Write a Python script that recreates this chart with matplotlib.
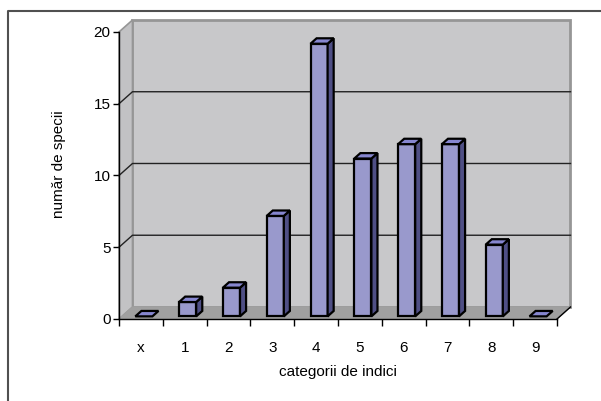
import matplotlib
matplotlib.use("Agg")
import matplotlib.pyplot as plt
from matplotlib.patches import Polygon
from matplotlib.lines import Line2D

plt.rcParams['font.family'] = ['Liberation Sans', 'DejaVu Sans']

# data
categories = ['x', '1', '2', '3', '4', '5', '6', '7', '8', '9']
species_counts = [0, 1, 2, 7, 19, 11, 12, 12, 5, 0]
y_ticks = [0, 5, 10, 15, 20]
y_label = 'număr de specii'
x_label = 'categorii de indici'

# 3-D look: oblique depth offset in data units
DX = 0.308   # horizontal shift of the back plane (category units)
DY = 0.837   # vertical shift of the back plane (value units)
BAR_W = 0.39
BAR_F0 = 0.22   # depth position of the bar front face
BAR_D = 0.45    # bar depth

WALL = '#c8c8ca'
SIDE_WALL = '#c2c2c4'
FLOOR = '#a0a0a0'
WALL_EDGE = '#969696'
FRONT = '#9999cc'
SIDE = '#4f4f85'
TOP = '#8686cf'
FS = 11

fig = plt.figure(figsize=(6.01, 4.01), dpi=100)
W, H = 601, 401
ax = fig.add_axes([119 / W, (H - 319) / H, 438 / W, 287 / H])
ax.set_xlim(0, len(categories))
ax.set_ylim(0, 20)
ax.patch.set_visible(False)


def P(x, y, d):
    return (x + d * DX, y + d * DY)


def poly(pts, fc, ec, lw, z):
    p = Polygon(pts, closed=True, facecolor=fc, edgecolor=ec, linewidth=lw,
                transform=ax.transData, clip_on=False, zorder=z, joinstyle='miter')
    ax.add_patch(p)


n = len(categories)
ymax = 20
# walls and floor
poly([P(0, 0, 1), P(n, 0, 1), P(n, ymax, 1), P(0, ymax, 1)], WALL, WALL_EDGE, 2.0, 1)
poly([P(0, 0, 0), P(0, 0, 1), P(0, ymax, 1), P(0, ymax, 0)], SIDE_WALL, WALL_EDGE, 1.2, 1)
poly([P(0, 0, 0), P(n, 0, 0), P(n, 0, 1), P(0, 0, 1)], FLOOR, FLOOR, 0.8, 1.5)

# gridlines across the side wall and the back wall
for v in y_ticks[1:-1]:
    pts = [P(0, v, 0), P(0, v, 1), P(n, v, 1)]
    ax.add_line(Line2D([p[0] for p in pts], [p[1] for p in pts], color='#222222',
                       linewidth=1.0, clip_on=False, zorder=2))

# diagonal edge at the right end of the floor
pts = [P(n, 0, 0), P(n, 0, 1)]
ax.add_line(Line2D([p[0] for p in pts], [p[1] for p in pts], color='black',
                   linewidth=1.0, clip_on=False, zorder=2))

# columns
fb = BAR_F0 + BAR_D
for i, v in enumerate(species_counts):
    x0 = i + (1 - BAR_W) / 2
    x1 = x0 + BAR_W
    if v > 0:
        poly([P(x0, 0, BAR_F0), P(x1, 0, BAR_F0), P(x1, v, BAR_F0), P(x0, v, BAR_F0)],
             FRONT, 'black', 1.6, 3)
        poly([P(x1, 0, BAR_F0), P(x1, 0, fb), P(x1, v, fb), P(x1, v, BAR_F0)],
             SIDE, 'black', 1.6, 3)
    poly([P(x0, v, BAR_F0), P(x1, v, BAR_F0), P(x1, v, fb), P(x0, v, fb)],
         TOP, 'black', 1.6, 3)

# axes styling
for s in ('top', 'right'):
    ax.spines[s].set_visible(False)
for s in ('left', 'bottom'):
    ax.spines[s].set_color('black')
    ax.spines[s].set_linewidth(1.0)
    ax.spines[s].set_zorder(4)

ax.set_yticks(y_ticks)
ax.set_yticklabels([str(t) for t in y_ticks])
ax.tick_params(axis='y', direction='out', length=4, width=1.0, pad=2,
               labelsize=FS, colors='black')

ax.set_xticks(range(n + 1))
ax.set_xticklabels([''] * (n + 1))
ax.set_xticks([i + 0.5 for i in range(n)], minor=True)
ax.set_xticklabels(categories, minor=True)
ax.tick_params(axis='x', which='major', direction='out', length=5, width=1.0)
ax.tick_params(axis='x', which='minor', length=0, pad=16, labelsize=FS)

ax.set_xlabel(x_label, fontsize=FS)
ax.xaxis.set_label_coords(0.5, (319 - 372) / 287)
ax.xaxis.label.set_va('center')
ax.set_ylabel(y_label, fontsize=FS)
ax.yaxis.set_label_coords((59 - 119) / 438, (319 - 164) / 287)
ax.yaxis.label.set_va('center')

# chart area border (top and left edges visible)
fig.add_artist(Line2D([7.5 / W, 7.5 / W, 1.2], [-0.2, 1 - 10.5 / H, 1 - 10.5 / H],
                      transform=fig.transFigure, color='#505050', linewidth=1.5,
                      clip_on=False))

fig.savefig('out.png', dpi=100)
